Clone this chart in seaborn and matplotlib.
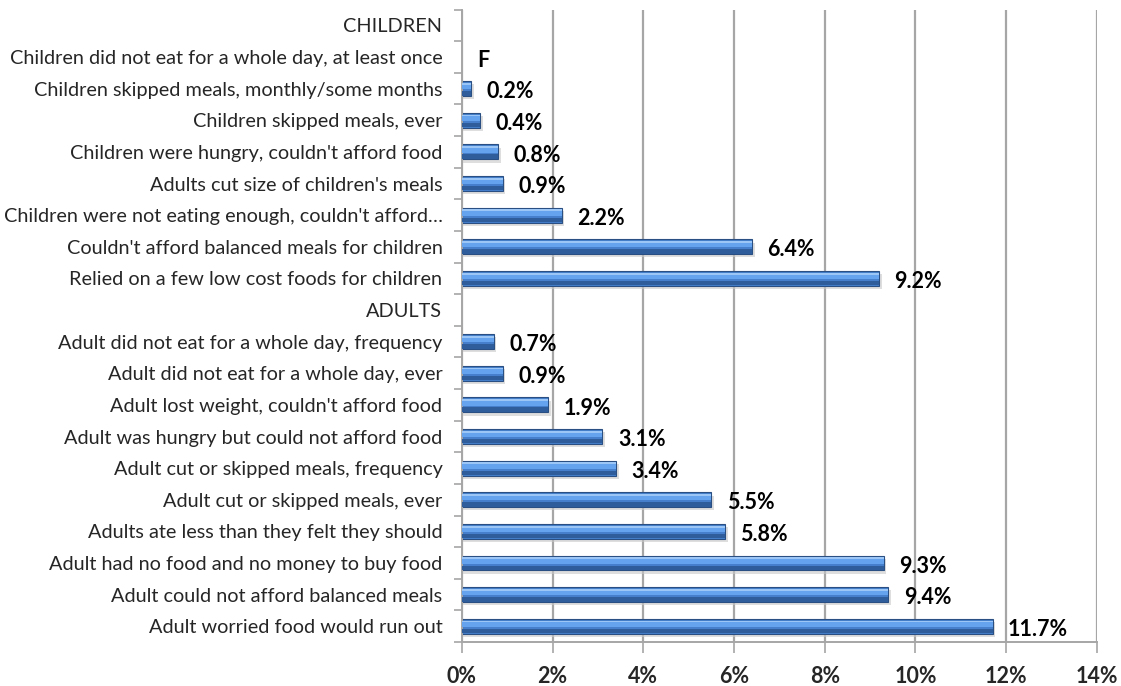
import numpy as np
import pandas as pd
import matplotlib
matplotlib.use("Agg")
import matplotlib.pyplot as plt
import seaborn as sns

categories = [
    "CHILDREN",
    "Children did not eat for a whole day, at least once",
    "Children skipped meals, monthly/some months",
    "Children skipped meals, ever",
    "Children were hungry, couldn't afford food",
    "Adults cut size of children's meals",
    "Children were not eating enough, couldn't afford…",
    "Couldn't afford balanced meals for children",
    "Relied on a few low cost foods for children",
    "ADULTS",
    "Adult did not eat for a whole day, frequency",
    "Adult did not eat for a whole day, ever",
    "Adult lost weight, couldn't afford food",
    "Adult was hungry but could not afford food",
    "Adult cut or skipped meals, frequency",
    "Adult cut or skipped meals, ever",
    "Adults ate less than they felt they should",
    "Adult had no food and no money to buy food",
    "Adult could not afford balanced meals",
    "Adult worried food would run out",
]
values = [np.nan, 0.0, 0.2, 0.4, 0.8, 0.9, 2.2, 6.4, 9.2,
          np.nan, 0.7, 0.9, 1.9, 3.1, 3.4, 5.5, 5.8, 9.3, 9.4, 11.7]
value_labels = ["", "F", "0.2%", "0.4%", "0.8%", "0.9%", "2.2%", "6.4%", "9.2%",
                "", "0.7%", "0.9%", "1.9%", "3.1%", "3.4%", "5.5%", "5.8%", "9.3%", "9.4%", "11.7%"]
x_ticks = [0, 2, 4, 6, 8, 10, 12, 14]
x_tick_labels = ["0%", "2%", "4%", "6%", "8%", "10%", "12%", "14%"]

df = pd.DataFrame({"category": categories, "value": values})

sns.set_theme(style="white")
plt.rcParams["font.family"] = ["Lato", "DejaVu Sans"]

fig = plt.figure(figsize=(11.21, 6.86), dpi=100)
ax = fig.add_axes([0.412, 0.064, 0.5665, 0.922])

# vertical grid
ax.set_axisbelow(True)
ax.xaxis.grid(True, color="#a6a6a6", linewidth=1.6)
ax.yaxis.grid(False)

plot_vals = df["value"].fillna(0).to_numpy()
pos = np.arange(len(categories))
has_bar = plot_vals > 0
bar_pos = pos[has_bar]
bar_vals = plot_vals[has_bar]

# soft shadow under bars
ax.barh(bar_pos + 0.1, bar_vals + 0.06, height=0.47, color="#c8c8c8", alpha=0.6,
        linewidth=0, zorder=1.5)
sns.barplot(data=df, x="value", y="category", order=categories, orient="h",
            color="#4680cc", saturation=1, width=0.47, edgecolor="#2a4f82",
            linewidth=0.8, ax=ax, zorder=2)
for patch in ax.patches:
    if patch.get_width() == 0 or np.isnan(patch.get_width()):
        patch.set_visible(False)
# bevel: lighter top, darker bottom
ax.barh(bar_pos - 0.08, bar_vals, height=0.2, color="#65a3ee", linewidth=0, zorder=3)
ax.barh(bar_pos - 0.15, bar_vals, height=0.06, color="#9cc6f5", linewidth=0, zorder=3)
ax.barh(bar_pos + 0.15, bar_vals, height=0.14, color="#2f5c9a", linewidth=0, zorder=3)

for p, v, lab in zip(pos, plot_vals, value_labels):
    if lab:
        ax.text(v + 0.34, p + 0.1, lab, va="center", ha="left",
                fontsize=15.5, fontweight="bold", color="black")

ax.set_xlim(0, 14)
ax.set_ylim(len(categories) - 0.5, -0.5)
ax.set_xticks(x_ticks)
ax.set_xticklabels(x_tick_labels, fontsize=15.5, fontweight="bold")
ax.tick_params(axis="x", which="major", direction="out", length=8, width=1.2,
               color="#a6a6a6", pad=9, bottom=True)
ax.set_yticks(pos)
ax.set_yticklabels(categories, fontsize=14.3)
ax.set_yticks(np.arange(-0.5, len(categories), 1), minor=True)
ax.tick_params(axis="y", which="major", length=0, pad=14)
ax.tick_params(axis="y", which="minor", direction="out", length=6, width=1.2,
               color="#a6a6a6", left=True)
ax.set_xlabel("")
ax.set_ylabel("")
for s in ["top", "right"]:
    ax.spines[s].set_visible(False)
for s in ["left", "bottom"]:
    ax.spines[s].set_color("#a6a6a6")
    ax.spines[s].set_linewidth(1.4)

fig.savefig("out.png", dpi=100)
